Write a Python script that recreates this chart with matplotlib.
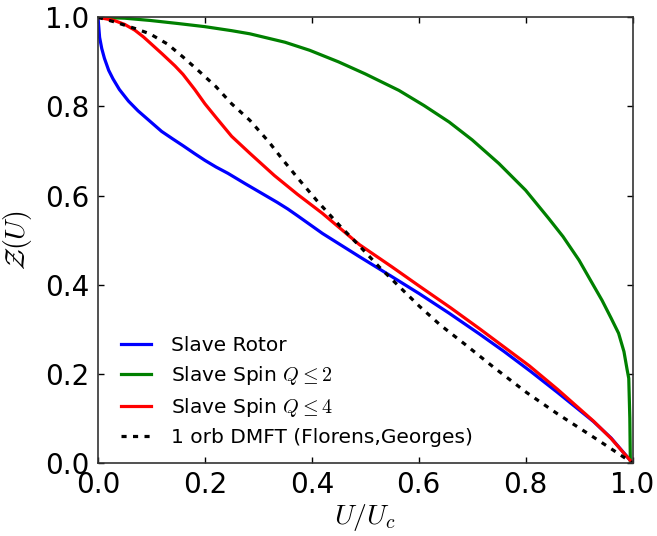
import matplotlib
matplotlib.use("Agg")
import matplotlib.pyplot as plt

# Slave Rotor
u_rotor = [0, 0.003, 0.007, 0.012, 0.02, 0.028, 0.04, 0.057, 0.075, 0.097, 0.119, 0.14,
           0.159, 0.181, 0.2, 0.221, 0.243, 0.275, 0.305, 0.335, 0.355, 0.373, 0.42, 0.489,
           0.55, 0.601, 0.657, 0.713, 0.76, 0.81, 0.86, 0.927, 0.96, 1.0]
z_rotor = [1.0, 0.955, 0.93, 0.908, 0.881, 0.862, 0.838, 0.812, 0.79, 0.767, 0.744, 0.727,
           0.712, 0.694, 0.679, 0.664, 0.65, 0.627, 0.606, 0.585, 0.57, 0.555, 0.515, 0.463,
           0.418, 0.38, 0.336, 0.29, 0.25, 0.205, 0.158, 0.093, 0.056, 0.0]

# Slave Spin Q<=2
u_q2 = [0, 0.05, 0.097, 0.15, 0.2, 0.25, 0.284, 0.35, 0.396, 0.45, 0.5, 0.563, 0.61, 0.657,
        0.7, 0.75, 0.8, 0.843, 0.87, 0.9, 0.92, 0.943, 0.96, 0.974, 0.984, 0.99, 0.993, 0.995,
        0.996]
z_q2 = [1.0, 0.998, 0.993, 0.986, 0.979, 0.97, 0.963, 0.944, 0.926, 0.90, 0.873, 0.836,
        0.802, 0.765, 0.725, 0.672, 0.612, 0.549, 0.508, 0.455, 0.413, 0.365, 0.325, 0.291,
        0.25, 0.209, 0.19, 0.1, 0.0]

# Slave Spin Q<=4
u_q4 = [0, 0.03, 0.05, 0.069, 0.085, 0.097, 0.12, 0.144, 0.159, 0.181, 0.2, 0.221, 0.25,
        0.284, 0.33, 0.373, 0.42, 0.489, 0.55, 0.601, 0.66, 0.713, 0.76, 0.807, 0.86, 0.927,
        0.96, 1.0]
z_q4 = [1.0, 0.993, 0.984, 0.971, 0.956, 0.943, 0.918, 0.891, 0.872, 0.838, 0.806, 0.775,
        0.733, 0.695, 0.645, 0.603, 0.56, 0.49, 0.44, 0.397, 0.348, 0.302, 0.26, 0.218,
        0.165, 0.094, 0.055, 0.0]

# 1 orb DMFT (Florens, Georges)
u_dmft = [0, 0.03, 0.069, 0.097, 0.13, 0.159, 0.19, 0.221, 0.25, 0.284, 0.32, 0.346, 0.376,
          0.41, 0.451, 0.49, 0.526, 0.56, 0.601, 0.64, 0.688, 0.74, 0.802, 0.86, 0.927, 0.96, 1.0]
z_dmft = [1.0, 0.99, 0.975, 0.963, 0.94, 0.911, 0.878, 0.844, 0.806, 0.769, 0.72, 0.68,
          0.636, 0.588, 0.534, 0.486, 0.44, 0.40, 0.352, 0.31, 0.265, 0.215, 0.158, 0.11,
          0.058, 0.032, 0.0]

labels = ["Slave Rotor", r"Slave Spin $Q\leq 2$", r"Slave Spin $Q\leq 4$",
          "1 orb DMFT (Florens,Georges)"]
ticks = [0.0, 0.2, 0.4, 0.6, 0.8, 1.0]
tick_labels = ["0.0", "0.2", "0.4", "0.6", "0.8", "1.0"]

plt.rcParams['font.family'] = ['DejaVu Sans']
plt.rcParams['mathtext.fontset'] = 'cm'

fig = plt.figure(figsize=(6.57, 5.36), dpi=100)
ax = fig.add_axes([98 / 657, 1 - 463 / 536, (632.5 - 98) / 657, (463 - 17.3) / 536])

lw = 2.3
ax.plot(u_rotor, z_rotor, color='#0000ff', lw=lw, label=labels[0])
ax.plot(u_q2, z_q2, color='#008000', lw=lw, label=labels[1])
ax.plot(u_q4, z_q4, color='#ff0000', lw=lw, label=labels[2])
ax.plot(u_dmft, z_dmft, color='black', lw=lw, dashes=(1.6, 2.0), label=labels[3])

ax.set_xlim(0, 1)
ax.set_ylim(0, 1)
ax.set_xticks(ticks)
ax.set_xticklabels(tick_labels)
ax.set_yticks(ticks)
ax.set_yticklabels(tick_labels)
ax.tick_params(direction='in', top=True, right=True, length=4, width=1,
               labelsize=20, pad=6)
for s in ax.spines.values():
    s.set_color('#333333')
    s.set_linewidth(1.2)

ax.set_xlabel(r"$U/U_c$", fontsize=20, labelpad=2)
ax.set_ylabel(r"$\mathcal{Z}(U)$", fontsize=20, labelpad=8)

ax.legend(loc='lower left', frameon=False, fontsize=14.5, handlelength=1.5,
          handletextpad=1.0, labelspacing=0.45, borderaxespad=0.4,
          bbox_to_anchor=(0.012, 0.0))

fig.savefig("out.png", dpi=100, facecolor='white')
